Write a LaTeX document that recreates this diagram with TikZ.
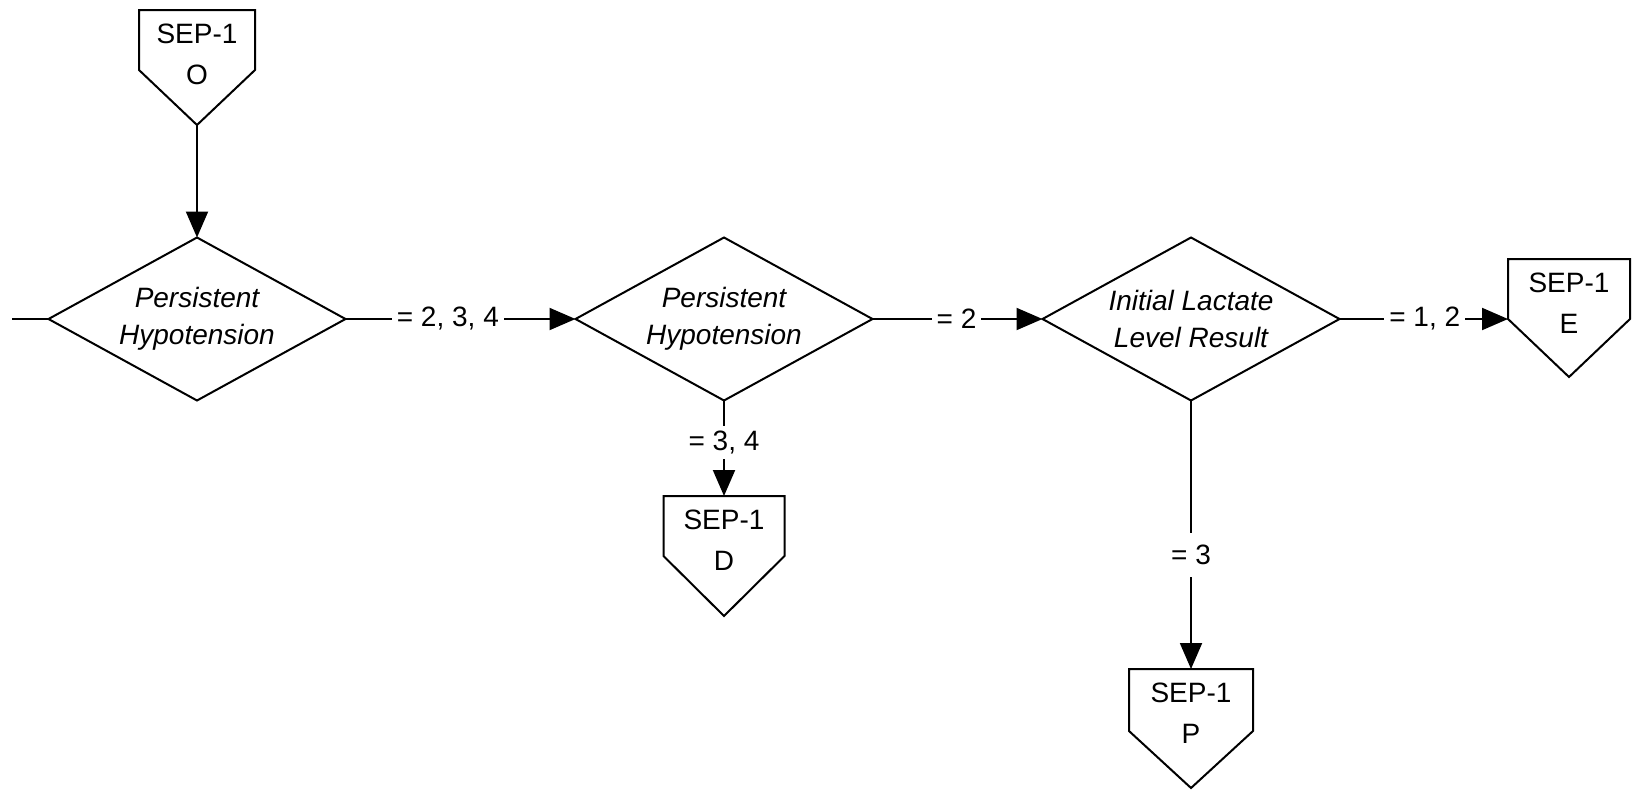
\documentclass[tikz,border=0pt]{standalone}
\usepackage{fontspec}
\setmainfont{Liberation Sans}
\usetikzlibrary{shapes.geometric,arrows.meta,calc}
% name, cx, top, rect height, point depth, width, text
\newcommand\offpg[7]{%
  \node[opc, minimum width=#6pt, anchor=north] (#1) at (#2,#3) {#7};
  \draw[outl] (#1.north west) -- (#1.north east) -- ($(#1.north east)+(0,#4)$)
    -- ($(#1.north)+(0,#4+#5)$) coordinate (#1-tip)
    -- ($(#1.north west)+(0,#4)$) -- cycle;
}
\begin{document}
\begin{tikzpicture}[x=1pt,y=-1pt,
  line width=2pt,
  outl/.style={draw=black, line width=2pt, line join=miter},
  opc/.style={rectangle, draw=none, minimum height=89pt, inner sep=0pt, outer sep=0pt,
    align=center, font=\fontsize{28}{41}\selectfont},
  dec/.style={diamond, draw=black, line width=2pt, aspect=1.82, minimum width=297pt,
    minimum height=163pt, inner sep=0pt, outer sep=0pt, align=center,
    font=\fontsize{28}{37}\selectfont\itshape},
  lbl/.style={fill=white, inner sep=5pt, font=\fontsize{28}{34}\selectfont},
  arr/.style={-{Triangle[length=26pt,width=22pt]}}
]
\useasboundingbox (0,0) rectangle (1632,790);

\node[dec] (d1) at (197,319) {Persistent\\Hypotension};
\node[dec] (d2) at (724,319) {Persistent\\Hypotension};
\node[dec] (d3) at (1191,319) {Initial Lactate\\Level Result};

\offpg{o}{197}{10}{60}{55}{116}{SEP-1\\O}
\offpg{dd}{724}{496}{60}{60}{121}{SEP-1\\D}
\offpg{e}{1569}{259}{60}{58}{122}{SEP-1\\E}
\offpg{p}{1191}{669}{62}{57}{124}{SEP-1\\P}

\coordinate (st) at (12,319);
\draw (st) -- (d1.west);
\draw[arr] (o-tip) -- (d1.north);
\draw[arr] (d1.east) -- node[lbl, pos=0.445] {= 2, 3, 4} (d2.west);
\draw[arr] (d2.east) -- node[lbl, pos=0.494] {= 2} (d3.west);
\draw[arr] (d3.east) -- node[lbl, pos=0.506] {= 1, 2} (d3.east -| e.west);
\draw[arr] (d2.south) -- node[lbl, pos=0.44] {= 3, 4} (dd.north);
\draw[arr] (d3.south) -- node[lbl, pos=0.574, inner ysep=12pt] {= 3} (p.north);
\end{tikzpicture}
\end{document}
